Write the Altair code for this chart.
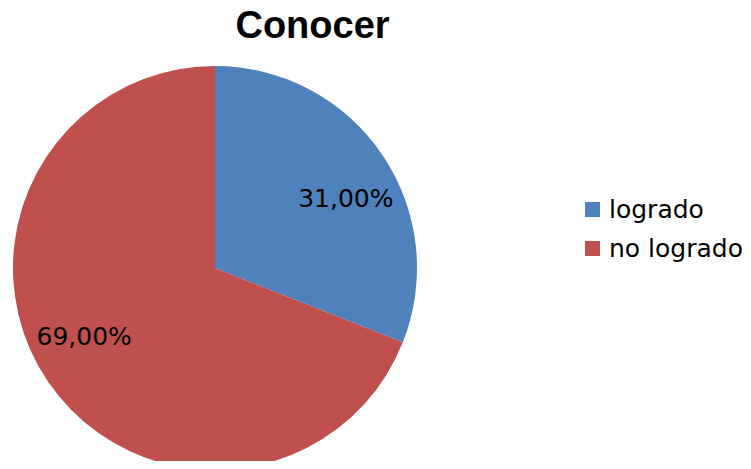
import altair as alt
import pandas as pd

categories = ["logrado", "no logrado"]
values = [31.0, 69.0]
colors = ["#4F81BD", "#C0504D"]

labels = [f"{v:.2f}".replace(".", ",") + "%" for v in values]
df = pd.DataFrame({"cat": categories, "val": values, "label": labels, "order": [0, 1]})

cx, cy, R = 207, 210, 202

base = alt.Chart(df).encode(
    theta=alt.Theta("val:Q", stack=True),
    order=alt.Order("order:Q"),
)

pie = base.mark_arc(stroke=None).encode(
    color=alt.Color(
        "cat:N",
        scale=alt.Scale(domain=categories, range=colors),
        legend=alt.Legend(
            title=None,
            orient="none",
            legendX=572,
            legendY=139,
            symbolType="square",
            symbolSize=225,
            symbolStrokeWidth=0,
            labelFont="DejaVu Sans",
            labelFontSize=25,
            labelColor="#000000",
            labelOffset=4,
            rowPadding=13,
            padding=0,
        ),
    ),
    x=alt.value(cx),
    y=alt.value(cy),
    radius=alt.value(R),
)

text = base.mark_text(
    font="DejaVu Sans", fontSize=25, color="#000000", thetaOffset=0.11
).encode(
    text="label:N",
    x=alt.value(cx),
    y=alt.value(cy),
    radius=alt.value(148),
)

chart = (
    alt.layer(pie, text)
    .properties(
        width=735,
        height=403,
        autosize=alt.AutoSizeParams(type="none"),
        padding={"top": 50, "left": 0, "right": 0, "bottom": 0},
        title=alt.TitleParams(
            "Conocer",
            font="Liberation Sans",
            fontSize=38,
            fontWeight="bold",
            color="#000000",
            anchor="middle",
            dx=-63,
            offset=12,
        ),
    )
    .configure_view(stroke=None)
)

chart.save("out.html", embed_options={"renderer": "svg", "actions": False})
